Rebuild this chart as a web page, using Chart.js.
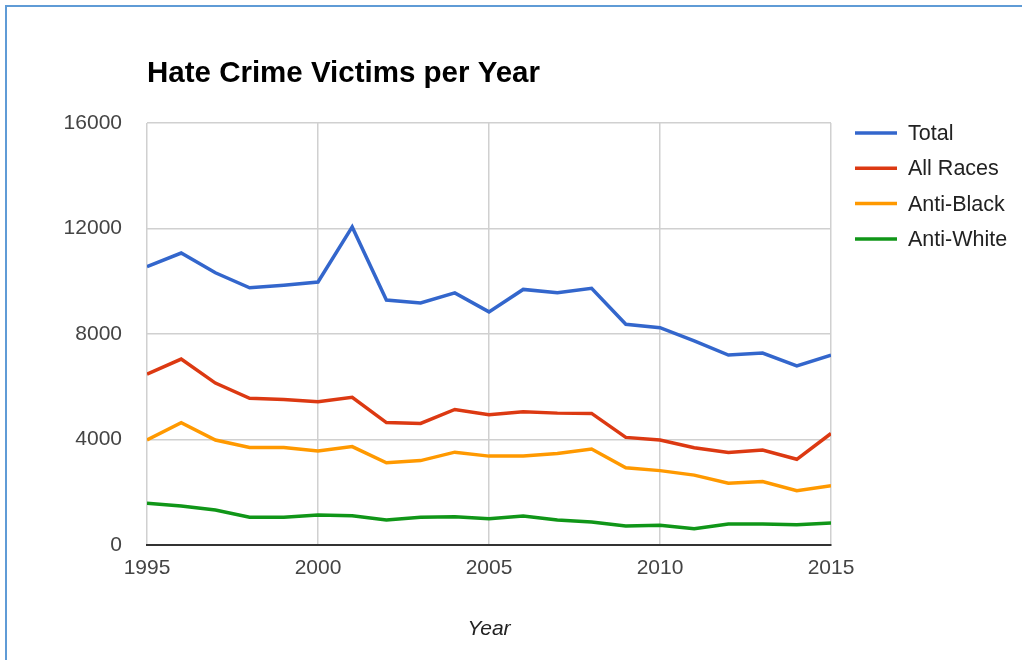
<!DOCTYPE html>
<html>
<head>
<meta charset="utf-8">
<script src="https://cdn.jsdelivr.net/npm/chart.js@4.4.1/dist/chart.umd.min.js"></script>
<style>
  html, body { margin: 0; padding: 0; background: #fff; }
  #wrap { position: relative; width: 1022px; height: 660px; overflow: hidden; }
  #frame { position: absolute; left: 5px; top: 5px; width: 1100px; height: 800px;
           border-top: 2px solid #5f9bd6; border-left: 2px solid #5f9bd6; }
  #c { position: absolute; left: 0; top: 0; }
</style>
</head>
<body>
<div id="wrap">
  <div id="frame"></div>
  <canvas id="c" width="1022" height="660"></canvas>
</div>
<script>
const chartTitle = "Hate Crime Victims per Year";
const xAxisTitle = "Year";
const years = [1995, 1996, 1997, 1998, 1999, 2000, 2001, 2002, 2003, 2004, 2005,
               2006, 2007, 2008, 2009, 2010, 2011, 2012, 2013, 2014, 2015];
const seriesNames = ["Total", "All Races", "Anti-Black", "Anti-White"];
const total     = [10550, 11070, 10320, 9750, 9850, 9970, 12060, 9290, 9180, 9560, 8840,
                   9690, 9560, 9730, 8370, 8240, 7740, 7200, 7280, 6790, 7200];
const allRaces  = [6480, 7050, 6140, 5560, 5520, 5430, 5600, 4640, 4610, 5140, 4940,
                   5050, 5000, 4990, 4080, 3980, 3690, 3510, 3600, 3250, 4230];
const antiBlack = [3980, 4640, 3980, 3700, 3700, 3560, 3730, 3120, 3200, 3520, 3370,
                   3370, 3470, 3640, 2930, 2820, 2650, 2340, 2410, 2060, 2250];
const antiWhite = [1580, 1480, 1330, 1050, 1050, 1140, 1110, 950, 1050, 1070, 1000,
                   1100, 950, 870, 720, 750, 620, 800, 800, 770, 830];
const xTicks = [1995, 2000, 2005, 2010, 2015];
const yTicks = [0, 4000, 8000, 12000, 16000];
const colors = ["#3366cc", "#dc3912", "#ff9900", "#109618"];

const FONT = "Arial, 'Liberation Sans', sans-serif";
const allSeries = [total, allRaces, antiBlack, antiWhite];

const datasets = allSeries.map((vals, i) => ({
  label: seriesNames[i],
  data: years.map((y, j) => ({ x: y, y: vals[j] })),
  borderColor: colors[i],
  backgroundColor: colors[i],
  borderWidth: 3.5,
  pointRadius: 0,
  pointHoverRadius: 0,
  tension: 0,
  fill: false,
  order: 3 - i
}));

const decorPlugin = {
  id: 'decor',
  afterDraw(chart) {
    const ctx = chart.ctx;
    const area = chart.chartArea;
    ctx.save();
    // Title
    ctx.fillStyle = '#000';
    ctx.font = "bold 29.5px " + FONT;
    ctx.textAlign = 'left';
    ctx.textBaseline = 'alphabetic';
    ctx.fillText(chartTitle, area.left, 82);
    // Legend
    ctx.font = "21.5px " + FONT;
    ctx.textBaseline = 'middle';
    chart.data.datasets.forEach((ds, i) => {
      const y = 133 + 35.3 * i;
      ctx.strokeStyle = ds.borderColor;
      ctx.lineWidth = 3.5;
      ctx.beginPath();
      ctx.moveTo(855, y);
      ctx.lineTo(897, y);
      ctx.stroke();
      ctx.fillStyle = '#222';
      ctx.fillText(ds.label, 908, y + 1);
    });
    ctx.restore();
  }
};

new Chart(document.getElementById('c'), {
  type: 'line',
  data: { datasets },
  plugins: [decorPlugin],
  options: {
    responsive: false,
    animation: false,
    devicePixelRatio: 1,
    layout: { padding: { left: 0, right: 191, top: 123, bottom: 0 } },
    plugins: {
      legend: { display: false },
      title: { display: false },
      tooltip: { enabled: false }
    },
    scales: {
      x: {
        type: 'linear',
        min: xTicks[0],
        max: xTicks[xTicks.length - 1],
        afterBuildTicks: (s) => { s.ticks = xTicks.map(v => ({ value: v })); },
        afterFit: (s) => { s.height = 115; },
        ticks: {
          color: '#444',
          font: { family: FONT, size: 21 },
          padding: 11,
          maxRotation: 0,
          autoSkip: false,
          callback: (v) => String(v)
        },
        grid: { color: '#d0d0d0', lineWidth: 1.5, drawTicks: false },
        border: { display: true, color: '#333', width: 2 },
        title: {
          display: true,
          text: xAxisTitle,
          color: '#222',
          font: { family: FONT, size: 21, style: 'italic' },
          padding: { top: 0, bottom: 18 }
        }
      },
      y: {
        type: 'linear',
        min: yTicks[0],
        max: yTicks[yTicks.length - 1],
        afterBuildTicks: (s) => { s.ticks = yTicks.map(v => ({ value: v })); },
        afterFit: (s) => { s.width = 147; },
        ticks: {
          color: '#444',
          font: { family: FONT, size: 21 },
          padding: 25,
          callback: (v) => String(v)
        },
        grid: { color: '#d0d0d0', lineWidth: 1.5, drawTicks: false },
        border: { display: false }
      }
    }
  }
});
</script>
</body>
</html>
